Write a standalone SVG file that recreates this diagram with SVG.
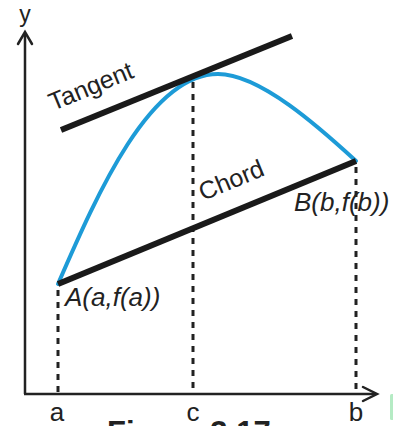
<svg xmlns="http://www.w3.org/2000/svg" width="393" height="426" viewBox="0 0 393 426">
<style>
.axis{stroke:#222;stroke-width:2.5;fill:none}
.head{stroke:#222;stroke-width:2.5;fill:none;stroke-linecap:round;stroke-linejoin:miter}
.thick{stroke:#1a1a1a;stroke-width:6;fill:none}
.curve{stroke:#1d9bd7;stroke-width:4;fill:none;stroke-linecap:round}
.dot{stroke:#222;stroke-width:3;stroke-dasharray:6 6;fill:none}
text{font-family:"Liberation Sans",Arial,sans-serif;fill:#222}
.lab{font-size:25px}
.tick{font-size:26px}
.it{font-size:26px;font-style:italic}
</style>
<rect width="393" height="426" fill="#fff"/>
<g id="axes">
<line class="axis" x1="25" y1="33" x2="25" y2="394"/>
<line class="axis" x1="24" y1="394" x2="376" y2="394"/>
<polyline class="head" points="18,44 25,32 32,44"/>
<polyline class="head" points="363,387 377,394 363,401"/>
<text x="25" y="22" text-anchor="middle" font-size="23">y</text>
</g>
<g id="connectors">
<line class="dot" x1="58" y1="290" x2="58" y2="394"/>
<line class="dot" x1="193" y1="82" x2="193" y2="394"/>
<line class="dot" x1="356" y1="167" x2="356" y2="394"/>
</g>
<g id="curve">
<path class="curve" d="M58,284 C98,192 150,74 218,74 C260,74 320,128 356,161"/>
</g>
<g id="tangent">
<line class="thick" x1="61" y1="130" x2="292" y2="36"/>
<text class="lab" x="53" y="111" transform="rotate(-22.4 53 111)">Tangent</text>
</g>
<g id="chord">
<line class="thick" x1="58" y1="284" x2="356" y2="161"/>
<text class="lab" x="203" y="201" transform="rotate(-22.4 203 201)">Chord</text>
</g>
<g id="pointA">
<text class="it" x="65" y="306">A(a,f(a))</text>
</g>
<g id="pointB">
<text class="it" x="294" y="211">B(b,f(b))</text>
</g>
<g id="ticks">
<text class="tick" x="57" y="421" text-anchor="middle">a</text>
<text class="tick" x="193" y="421" text-anchor="middle">c</text>
<text class="tick" x="356" y="421" text-anchor="middle">b</text>
</g>
<text x="107" y="443" font-size="31" font-weight="bold">Figure 3.17</text>
<rect x="390" y="394" width="4" height="26" rx="1.5" fill="#b5ebc4"/>
</svg>
